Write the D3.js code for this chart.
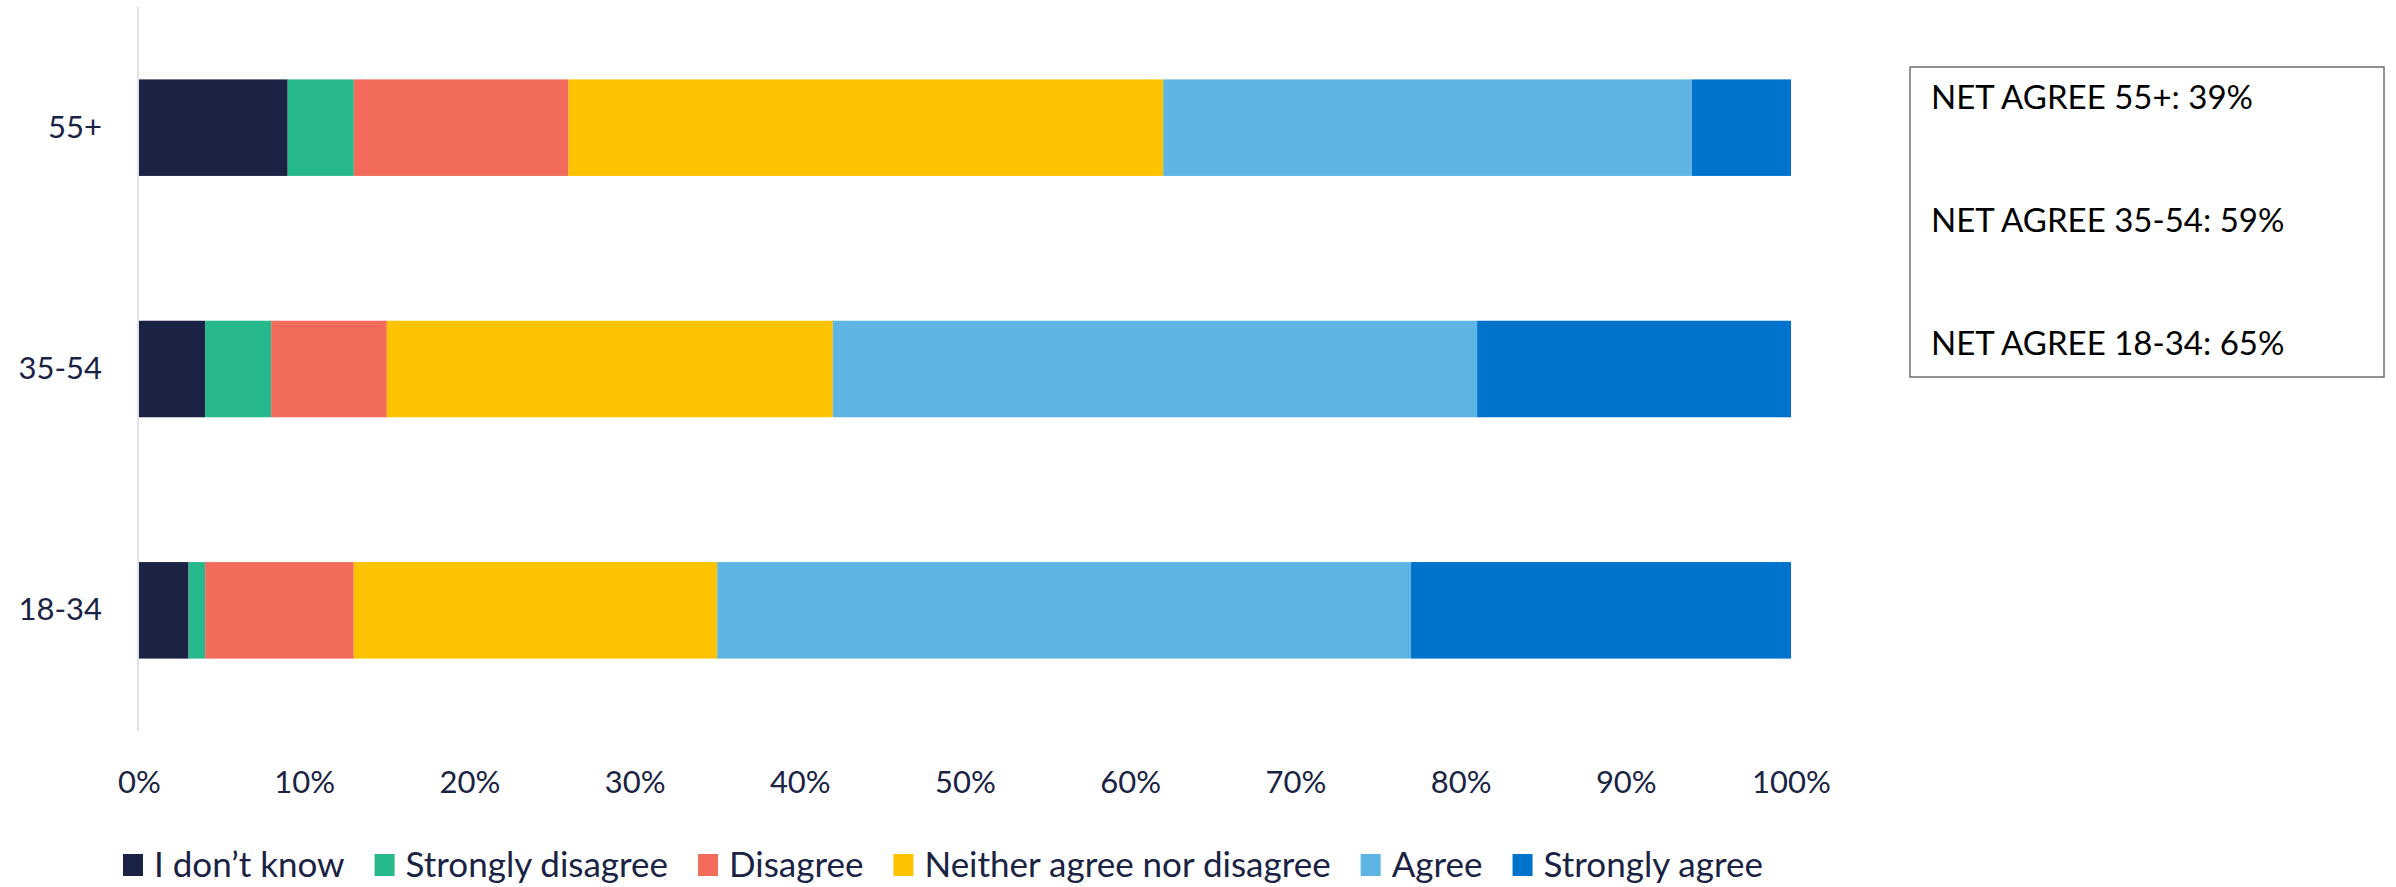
<!DOCTYPE html>
<html>
<head>
<meta charset="utf-8">
<script src="https://cdn.jsdelivr.net/npm/d3@7"></script>
<style>
  body { margin: 0; background: #fff; }
  svg { display: block; font-family: Lato, "Open Sans", sans-serif; }
</style>
</head>
<body>
<div id="chart"></div>
<script>
// data
const categories = ['55+', '35-54', '18-34'];
const responses = ['I don’t know', 'Strongly disagree', 'Disagree', 'Neither agree nor disagree', 'Agree', 'Strongly agree'];
const dontKnow = [9, 4, 3];
const stronglyDisagree = [4, 4, 1];
const disagree = [13, 7, 9];
const neither = [36, 27, 22];
const agree = [32, 39, 42];
const stronglyAgree = [6, 19, 23];
const netAgree = [39, 59, 65];
const xTicks = [0, 10, 20, 30, 40, 50, 60, 70, 80, 90, 100];
const colors = ['#1a2344', '#27b98b', '#f26b5b', '#fdc300', '#5eb5e3', '#0073cd'];

const width = 2396, height = 887;
const margin = {top: 7, right: 605, bottom: 156, left: 139};
const textColor = '#1a2344';

const seriesValues = [dontKnow, stronglyDisagree, disagree, neither, agree, stronglyAgree];
const table = categories.map((c, i) => {
  const row = {category: c};
  responses.forEach((r, j) => row[r] = seriesValues[j][i]);
  return row;
});

const svg = d3.select('#chart').append('svg')
  .attr('width', width)
  .attr('height', height);

const x = d3.scaleLinear()
  .domain([0, 100])
  .range([margin.left, width - margin.right]);

const y = d3.scaleBand()
  .domain(categories)
  .range([margin.top, height - margin.bottom])
  .paddingInner(0.6)
  .paddingOuter(0.3);

const color = d3.scaleOrdinal().domain(responses).range(colors);

const stacked = d3.stack().keys(responses)(table);

svg.append('g')
  .selectAll('g')
  .data(stacked)
  .join('g')
    .attr('fill', d => color(d.key))
  .selectAll('rect')
  .data(d => d)
  .join('rect')
    .attr('x', d => x(d[0]))
    .attr('y', d => y(d.data.category))
    .attr('width', d => x(d[1]) - x(d[0]))
    .attr('height', y.bandwidth());

// vertical axis line
svg.append('line')
  .attr('x1', margin.left - 1).attr('x2', margin.left - 1)
  .attr('y1', margin.top).attr('y2', height - margin.bottom)
  .attr('stroke', '#d9d9d9')
  .attr('stroke-width', 1.5);

// x axis
svg.append('g')
  .attr('transform', `translate(0,${height - margin.bottom})`)
  .call(d3.axisBottom(x).tickValues(xTicks).tickSize(0).tickPadding(40).tickFormat(d => d + '%'))
  .call(g => g.select('.domain').remove())
  .call(g => g.selectAll('text').attr('fill', textColor).attr('font-size', 31).attr('font-family', 'Lato'));

// y axis
svg.append('g')
  .attr('transform', `translate(${margin.left},0)`)
  .call(d3.axisLeft(y).tickSize(0).tickPadding(37))
  .call(g => g.select('.domain').remove())
  .call(g => g.selectAll('text').attr('fill', textColor).attr('font-size', 31).attr('font-family', 'Lato'));

// legend
const legend = svg.append('g').attr('transform', 'translate(123,865)');
let lx = 0;
responses.forEach(r => {
  const item = legend.append('g').attr('transform', `translate(${lx},0)`);
  item.append('rect')
    .attr('x', 0).attr('y', -11)
    .attr('width', 20).attr('height', 22)
    .attr('fill', color(r));
  const t = item.append('text')
    .attr('x', 31).attr('y', 0).attr('dy', '0.35em')
    .attr('fill', textColor)
    .attr('font-size', 35)
    .text(r);
  lx += 31 + t.node().getComputedTextLength() + 30;
});

// net agree box
const box = svg.append('g');
box.append('rect')
  .attr('x', 1910).attr('y', 67)
  .attr('width', 474).attr('height', 310)
  .attr('fill', '#fff')
  .attr('stroke', '#6e6e6e')
  .attr('stroke-width', 1.5);
box.selectAll('text')
  .data(categories)
  .join('text')
    .attr('x', 1931)
    .attr('y', (d, i) => 109 + i * 123)
    .attr('fill', '#000')
    .attr('font-size', 33)
    .text((d, i) => `NET AGREE ${d}: ${netAgree[i]}%`);
</script>
</body>
</html>
